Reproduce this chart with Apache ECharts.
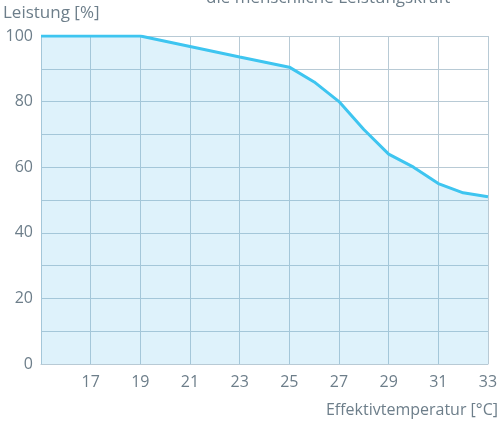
<!DOCTYPE html>
<html>
<head>
<meta charset="utf-8">
<script src="https://cdn.jsdelivr.net/npm/echarts@6/dist/echarts.min.js"></script>
<style>
  html, body { margin: 0; padding: 0; background: #fff; }
  #chart { width: 501px; height: 425px; }
</style>
</head>
<body>
<div id="chart"></div>
<script>
  // Effektivtemperatur (°C) als Kategorien, damit Gitter/Beschriftung auf ungeraden Werten liegen
  const temps = ['15', '16', '17', '18', '19', '20', '21', '22', '23', '24',
    '25', '26', '27', '28', '29', '30', '31', '32', '33']
  const pointTemps = ['15', '19', '21', '23', '25', '26', '27', '28', '29', '30', '31', '32', '33']
  const leistung = [100, 100, 96.8, 93.6, 90.5, 86, 80, 71.5, 64, 60, 55, 52.2, 51]
  const yTicks = [0, 20, 40, 60, 80, 100]

  const textColor = '#6d7e8a'
  const gridColor = '#b8cad5'
  const font = 'Open Sans'

  const chart = echarts.init(document.getElementById('chart'))
  const option = {
    animation: false,
    textStyle: { fontFamily: font },
    graphic: [
      {
        type: 'text',
        left: 206,
        top: -10,
        style: { text: 'die menschliche Leistungskraft', fill: textColor, font: '17px "Open Sans"' }
      },
      {
        type: 'text',
        left: 3,
        top: 5,
        style: { text: 'Leistung [%]', fill: textColor, font: '17px "Open Sans"' }
      }
    ],
    grid: { left: 41, right: 12, top: 36, bottom: 61, containLabel: false },
    xAxis: {
      type: 'category',
      data: temps,
      boundaryGap: false,
      name: 'Effektivtemperatur [°C]',
      nameLocation: 'end',
      nameGap: 10,
      nameTextStyle: { color: textColor, fontSize: 16, align: 'right', verticalAlign: 'top', padding: [38, 0, 0, 0] },
      axisLine: { show: true, lineStyle: { color: gridColor, width: 1 } },
      axisTick: { show: false },
      axisLabel: {
        color: textColor,
        fontSize: 16,
        margin: 10,
        interval: function (index) { return index > 0 && index % 2 === 0 }
      },
      splitLine: {
        show: true,
        interval: function (index) { return index % 2 === 0 },
        lineStyle: { color: gridColor, width: 1 }
      }
    },
    yAxis: {
      type: 'value',
      min: 0,
      max: 100,
      interval: 10,
      axisLine: { show: true, lineStyle: { color: gridColor, width: 1 } },
      axisTick: { show: false },
      axisLabel: {
        color: textColor,
        fontSize: 16,
        margin: 8,
        formatter: function (v) { return yTicks.indexOf(v) >= 0 ? String(v) : '' }
      },
      splitLine: { show: true, lineStyle: { color: gridColor, width: 1 } }
    },
    series: [
      {
        type: 'line',
        data: pointTemps.map((t, i) => [t, leistung[i]]),
        symbol: 'none',
        lineStyle: { color: '#3ec5f0', width: 3 },
        areaStyle: { color: 'rgba(80, 185, 235, 0.27)' },
        z: 1
      }
    ]
  }
  chart.setOption(option)
</script>
</body>
</html>
